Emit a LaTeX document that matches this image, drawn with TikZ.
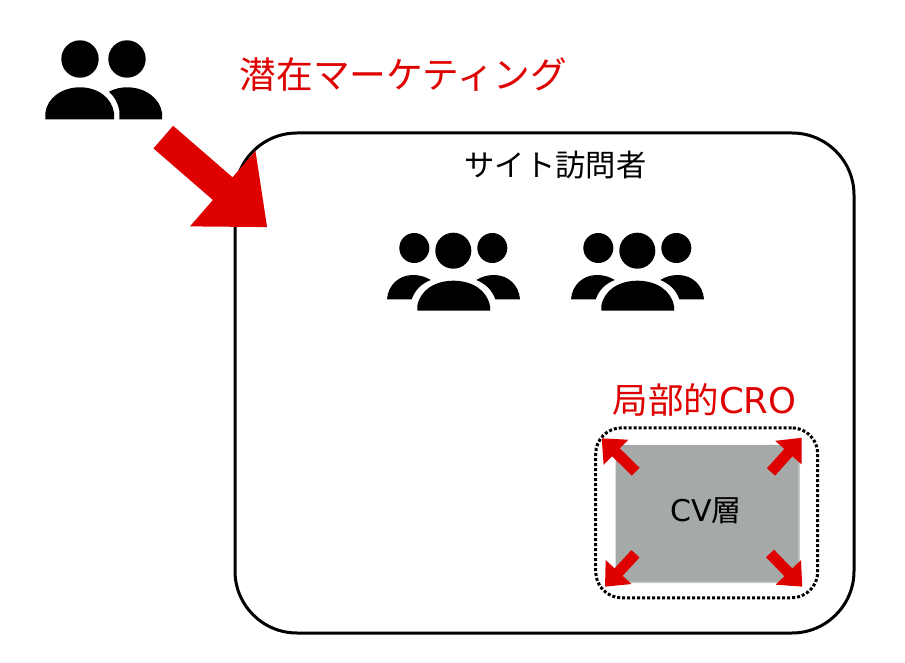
\documentclass[tikz,border=0pt]{standalone}
\usepackage{fontspec}
\newfontfamily\cjk{Noto Sans CJK JP}
\newfontfamily\lat{DejaVu Sans}
\usetikzlibrary{arrows.meta,shadows}
\definecolor{redc}{HTML}{DF0000}
\definecolor{grayc}{HTML}{A5AAA8}
\tikzset{
  redtext/.style={inner sep=0pt,text=redc,font=\cjk\fontsize{36.7}{40}\selectfont},
  bigarrow/.style={draw=redc,line width=30pt,-{Triangle[length=59pt,width=96pt,fill=redc]}},
  smallarrow/.style={draw=redc,line width=11pt,-{Triangle[length=20pt,width=34pt,fill=redc]}},
  softshadow/.style={general shadow={shadow xshift=1.5pt,shadow yshift=-1.5pt,fill=black!22}},
  pics/threeusers/.style={code={
    \fill (27.3,18) circle (15pt) (66.3,20.7) circle (18pt) (105.3,18) circle (15pt);
    \fill (30.3,80.7) -- (30.3,76) .. controls (33,60) and (48,50.7) .. (66.5,50.7)
       .. controls (85,50.7) and (100,60) .. (103,76) -- (103,80.7) -- cycle;
    \fill (0,69.3) .. controls (1,55) and (12,45) .. (26,45)
       .. controls (33,45) and (39,47) .. (43.7,50)
       .. controls (34,54) and (28,60) .. (24.7,69.3) -- cycle;
    \fill (133,69.3) .. controls (132,55) and (121,45) .. (107,45)
       .. controls (100,45) and (94,47) .. (89.3,50)
       .. controls (99,54) and (105,60) .. (108.3,69.3) -- cycle;
  }},
}
\begin{document}
\begin{tikzpicture}[x=1pt,y=-1pt]
\useasboundingbox (0,0) rectangle (905,663);
\fill[white] (0,0) rectangle (905,663);

% two-person icon
\fill (80,59) circle (18.7pt) (127,59) circle (18.7pt);
\fill (45.3,119.3) -- (45.3,113) .. controls (47,98) and (62,87.3) .. (80,87.3)
   .. controls (98,87.3) and (112,98) .. (114,113) -- (114,119.3) -- cycle;
\fill (109,91.7) .. controls (115,88.5) and (121,87.3) .. (127,87.3)
   .. controls (145,87.3) and (160,98) .. (162,113) -- (162,119.3) -- (119.3,119.3) -- (119.3,110)
   .. controls (118,103) and (114,96) .. (109,91.7) -- cycle;

% visitors frame
\node[draw,line width=3pt,rounded corners=62pt,minimum width=619pt,minimum height=500pt,inner sep=0pt] (visitors) at (544.5,383) {};

% titles
\node[redtext] (latent) at (403.5,75) {潜在マーケティング};
\node[inner sep=0pt,font=\cjk\fontsize{30.3}{34}\selectfont] (visitorlabel) at (555.5,165) {サイト訪問者};

% three-person icons
\pic (groupa) at (387,230) {threeusers};
\pic (groupb) at (571,230) {threeusers};

% big arrow
\coordinate (bigtail) at (163.3,137.1);
\coordinate (bigtip) at (267.3,227.3);
\draw[bigarrow] (bigtail) -- (bigtip);

% CV layer
\node[fill=grayc,rounded corners=7pt,minimum width=182.6pt,minimum height=136.7pt,inner sep=0pt,softshadow] (cv) at (707,513.3) {};
\node[inner sep=0pt,font=\fontsize{30}{33}\selectfont] (cvlabel) at (706,511) {{\lat CV}{\cjk 層}};
\node[draw,line width=3pt,dotted,rounded corners=26pt,minimum width=222pt,minimum height=170pt,inner sep=0pt] (cro) at (706.7,512.8) {};
\node[redtext,font=\fontsize{35.5}{38}\selectfont] (crolabel) at (704.5,400) {{\cjk 局部的}{\lat CRO}};

% small arrows
\coordinate (tla) at (635.7,471.7); \coordinate (tlb) at (601.7,438.3);
\coordinate (tra) at (771,472);     \coordinate (trb) at (801.7,437.7);
\coordinate (bla) at (635.5,553.8); \coordinate (blb) at (605,586.7);
\coordinate (bra) at (770,553.5);   \coordinate (brb) at (802.3,586.7);
\draw[smallarrow] (tla) -- (tlb);
\draw[smallarrow] (tra) -- (trb);
\draw[smallarrow] (bla) -- (blb);
\draw[smallarrow] (bra) -- (brb);
\end{tikzpicture}
\end{document}
